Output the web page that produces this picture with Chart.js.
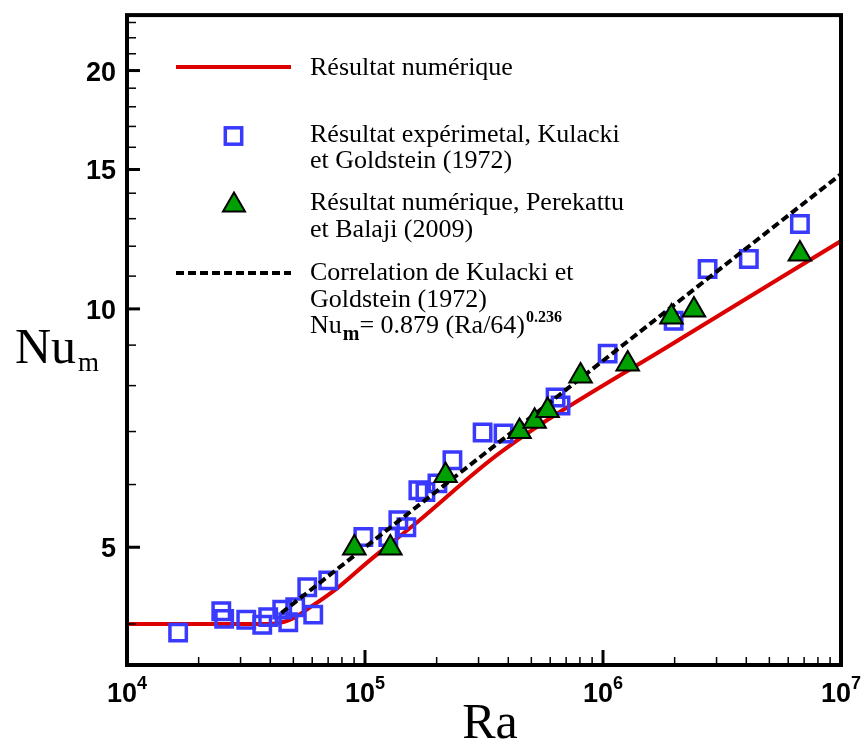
<!DOCTYPE html>
<html>
<head>
<meta charset="utf-8">
<script src="https://cdn.jsdelivr.net/npm/chart.js@4.4.0/dist/chart.umd.min.js"></script>
<style>
  body { margin: 0; background: #fff; }
</style>
</head>
<body>
<canvas id="c" width="861" height="745"></canvas>
<script>
// Résultat numérique (ligne rouge)
const numRa = [1e4, 4.0e4, 4.85e4, 5.89e4, 7.65e4, 1.053e5, 1.597e5, 3.71e5, 2.12e6, 1e7];
const numNu = [4.0, 4.0, 4.05, 4.2, 4.44, 4.82, 5.33, 6.59, 9.17, 12.18];

// Kulacki et Goldstein (1972), carrés
const kulRa = [1.64e4, 2.49e4, 2.56e4, 3.17e4, 3.70e4, 3.92e4, 4.49e4, 4.76e4, 5.09e4, 5.72e4,
  6.06e4, 7.01e4, 9.84e4, 1.253e5, 1.381e5, 1.492e5, 1.676e5, 1.794e5, 2.015e5, 2.33e5,
  3.12e5, 3.82e5, 6.32e5, 6.63e5, 1.046e6, 1.98e6, 2.75e6, 4.10e6, 6.72e6];
const kulNu = [3.90, 4.15, 4.06, 4.05, 3.99, 4.08, 4.17, 4.02, 4.20, 4.45,
  4.11, 4.54, 5.15, 5.15, 5.41, 5.30, 5.90, 5.87, 6.02, 6.44,
  6.98, 6.96, 7.73, 7.55, 8.78, 9.66, 11.23, 11.56, 12.80];

// Perekattu et Balaji (2009), triangles
const perRa = [9.02e4, 1.278e5, 2.18e5, 4.46e5, 5.16e5, 5.85e5, 8.05e5, 1.27e6, 1.94e6, 2.41e6, 6.72e6];
const perNu = [4.99, 4.99, 6.16, 7.00, 7.21, 7.44, 8.23, 8.52, 9.77, 9.97, 11.73];

// Corrélation (droite pointillée)
const corrRa = [4.45e4, 1e7];
const corrNu = [4.13, 14.8];

// Axes
const xTicks = [1e4, 1e5, 1e6, 1e7];
const xTickExp = ['4', '5', '6', '7'];
const yTicks = [5, 10, 15, 20];
const yMinor = [4, 6, 7, 8, 9, 11, 12, 13, 14, 16, 17, 18, 19, 21, 22, 23];

const legendLines = [
  ['Résultat numérique'],
  ['Résultat expérimetal, Kulacki', 'et Goldstein (1972)'],
  ['Résultat numérique, Perekattu', 'et Balaji (2009)'],
  ['Correlation de Kulacki et', 'Goldstein (1972)']
];

const RED = '#dd0000';
const BLUE = '#3a3aff';
const GREEN = '#00a000';
const SANS = '"Liberation Sans", Arial, sans-serif';
const SERIF = '"Liberation Serif", "Times New Roman", serif';

const pts = (xs, ys) => xs.map((v, i) => ({ x: v, y: ys[i] }));

const framePlugin = {
  id: 'frame',
  afterDraw(chart) {
    const { ctx, chartArea: a, scales: { x, y } } = chart;
    ctx.save();
    ctx.strokeStyle = '#000';
    ctx.fillStyle = '#000';
    ctx.textAlign = 'left';
    ctx.textBaseline = 'alphabetic';

    const seg = (x1, y1, x2, y2, w) => {
      ctx.lineWidth = w;
      ctx.beginPath();
      ctx.moveTo(x1, y1);
      ctx.lineTo(x2, y2);
      ctx.stroke();
    };

    // ticks en x (vers l'intérieur)
    for (let e = 4; e < 7; e++) {
      for (let m = 2; m <= 9; m++) {
        const px = x.getPixelForValue(m * Math.pow(10, e));
        seg(px, a.bottom, px, a.bottom - 8, 1.5);
      }
    }
    xTicks.forEach(v => {
      const px = x.getPixelForValue(v);
      seg(px, a.bottom, px, a.bottom - 15, 3);
    });

    // ticks en y
    yMinor.forEach(v => {
      const py = y.getPixelForValue(v);
      seg(a.left, py, a.left + 9, py, 1.5);
    });
    yTicks.forEach(v => {
      const py = y.getPixelForValue(v);
      seg(a.left, py, a.left + 13, py, 3);
    });

    // cadre
    ctx.lineWidth = 4;
    ctx.strokeRect(a.left, a.top, a.right - a.left, a.bottom - a.top);

    // étiquettes y
    ctx.font = 'bold 27px ' + SANS;
    ctx.textAlign = 'right';
    yTicks.forEach(v => {
      const py = y.getPixelForValue(v);
      ctx.fillText(String(v), a.left - 11, py + 10);
    });
    ctx.textAlign = 'left';

    // étiquettes x : 10^n
    xTicks.forEach((v, i) => {
      const px = x.getPixelForValue(v);
      ctx.font = 'bold 27px ' + SANS;
      const w1 = ctx.measureText('10').width;
      ctx.font = 'bold 18px ' + SANS;
      const w2 = ctx.measureText(xTickExp[i]).width;
      const x0 = px - (w1 + w2) / 2;
      ctx.font = 'bold 27px ' + SANS;
      ctx.fillText('10', x0, 702);
      ctx.font = 'bold 18px ' + SANS;
      ctx.fillText(xTickExp[i], x0 + w1, 689);
    });

    // titres des axes
    ctx.font = '50px ' + SERIF;
    ctx.textAlign = 'center';
    ctx.fillText('Ra', 490, 738);
    ctx.textAlign = 'left';
    ctx.fillText('Nu', 15, 363);
    const nuW = ctx.measureText('Nu').width;
    ctx.font = '27px ' + SERIF;
    ctx.fillText('m', 15 + nuW + 2, 371);

    // légende
    const lx = 176, rx = 291, tx = 310;
    ctx.strokeStyle = RED;
    seg(lx, 67, rx, 67, 4);

    ctx.strokeStyle = BLUE;
    ctx.lineWidth = 3.5;
    ctx.strokeRect(233.5 - 8.2, 136 - 8.2, 16.4, 16.4);

    ctx.fillStyle = GREEN;
    ctx.strokeStyle = '#000';
    ctx.lineWidth = 2;
    ctx.beginPath();
    ctx.moveTo(234, 192.5);
    ctx.lineTo(245, 211.5);
    ctx.lineTo(223, 211.5);
    ctx.closePath();
    ctx.fill();
    ctx.stroke();

    ctx.setLineDash([8, 4]);
    seg(lx, 273, rx, 273, 4);
    ctx.setLineDash([]);

    ctx.fillStyle = '#000';
    ctx.font = '26px ' + SERIF;
    const baselines = [[75], [142, 168], [210, 237], [280, 307]];
    legendLines.forEach((ls, i) => {
      ls.forEach((t, j) => ctx.fillText(t, tx, baselines[i][j]));
    });

    // Nu_m= 0.879 (Ra/64)^0.236
    let cx = tx;
    ctx.font = '26px ' + SERIF;
    ctx.fillText('Nu', cx, 333);
    cx += ctx.measureText('Nu').width + 1;
    ctx.font = 'bold 20px ' + SERIF;
    ctx.fillText('m', cx, 340);
    cx += ctx.measureText('m').width;
    ctx.font = '26px ' + SERIF;
    ctx.fillText('= 0.879 (Ra/64)', cx, 333);
    cx += ctx.measureText('= 0.879 (Ra/64)').width + 1;
    ctx.font = 'bold 16px ' + SERIF;
    ctx.fillText('0.236', cx, 322);

    ctx.restore();
  }
};

new Chart(document.getElementById('c'), {
  type: 'scatter',
  data: {
    datasets: [
      {
        label: 'Résultat numérique, Perekattu et Balaji (2009)',
        data: pts(perRa, perNu),
        pointStyle: 'triangle',
        pointRadius: 13,
        backgroundColor: GREEN,
        borderColor: '#000',
        borderWidth: 2,
        order: 0
      },
      {
        label: 'Correlation de Kulacki et Goldstein (1972)',
        data: pts(corrRa, corrNu),
        showLine: true,
        pointRadius: 0,
        borderColor: '#000',
        borderWidth: 4,
        borderDash: [8, 4],
        order: 1
      },
      {
        label: 'Résultat expérimetal, Kulacki et Goldstein (1972)',
        data: pts(kulRa, kulNu),
        pointStyle: 'rect',
        pointRadius: 11.6,
        backgroundColor: 'rgba(0,0,0,0)',
        borderColor: BLUE,
        borderWidth: 3.5,
        order: 2
      },
      {
        label: 'Résultat numérique',
        data: pts(numRa, numNu),
        showLine: true,
        pointRadius: 0,
        borderColor: RED,
        borderWidth: 4,
        cubicInterpolationMode: 'monotone',
        order: 3
      }
    ]
  },
  options: {
    responsive: false,
    animation: false,
    devicePixelRatio: 1,
    layout: { padding: { left: 127, right: 20, top: 13, bottom: 80 } },
    plugins: { legend: { display: false }, tooltip: { enabled: false } },
    scales: {
      x: { type: 'logarithmic', min: 1e4, max: 1e7, display: false },
      y: { type: 'logarithmic', min: 3.55, max: 23.5, display: false }
    }
  },
  plugins: [framePlugin]
});
</script>
</body>
</html>
